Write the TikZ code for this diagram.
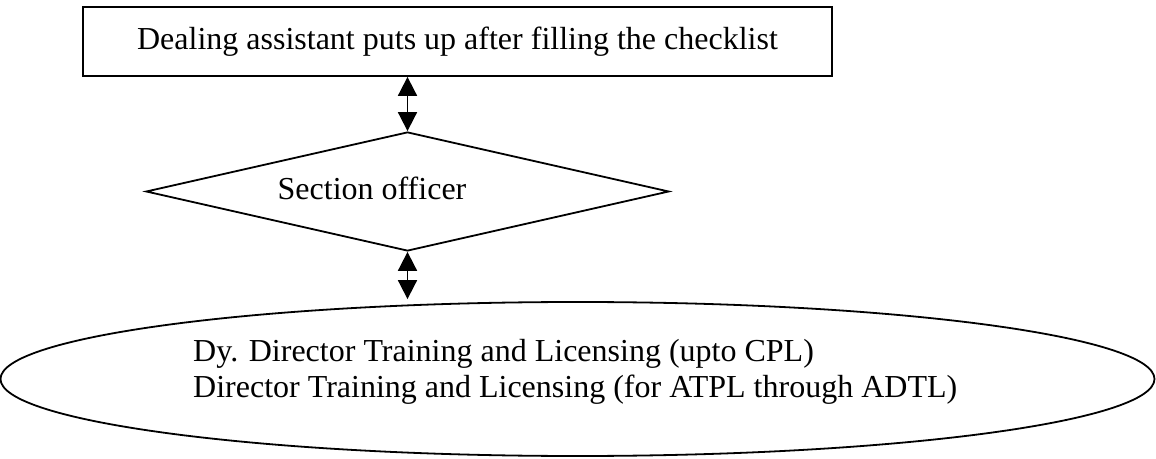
\documentclass[tikz,border=0pt]{standalone}
\usepackage{fontspec}
\setmainfont[Ligatures=NoCommon]{Liberation Serif}
\usetikzlibrary{shapes.geometric,arrows.meta}
\begin{document}
\begin{tikzpicture}[x=1pt,y=1pt,
  outline/.style={draw=black, line width=1.8pt, inner sep=0pt},
  txt/.style={font=\fontsize{32}{36}\selectfont, inner sep=0pt},
  link/.style={line width=1.8pt,
    {Triangle[length=19pt,width=19pt]}-{Triangle[length=19pt,width=19pt]}}]
% canvas
\useasboundingbox[fill=white] (0,0) rectangle (1156,458);

% top box
\node[outline, rectangle, minimum width=749pt, minimum height=69pt,
      font=\fontsize{32}{36}\selectfont] (box) at (457.5,416.5)
      {Dealing assistant puts up after filling the checklist};

% decision diamond
\node[outline, diamond, minimum width=523pt, minimum height=119pt] (dia) at (407.5,266.5) {};
\node[txt, anchor=base] (sec) at (372,258) {Section officer};

% bottom ellipse
\node[outline, ellipse, minimum width=1154pt, minimum height=154pt] (ell) at (577.5,79) {};
\node[txt, anchor=base west] (l1) at (193,96) {Dy. Director Training and Licensing (upto CPL)};
\node[txt, anchor=base west] (l2) at (193,61) {Director Training and Licensing (for ATPL through ADTL)};

% two-way links
\draw[link] (dia.north |- box.south) -- (dia.north);
\draw[link, shorten >=2pt] (dia.south) -- (dia.south |- ell.north);
\end{tikzpicture}
\end{document}
